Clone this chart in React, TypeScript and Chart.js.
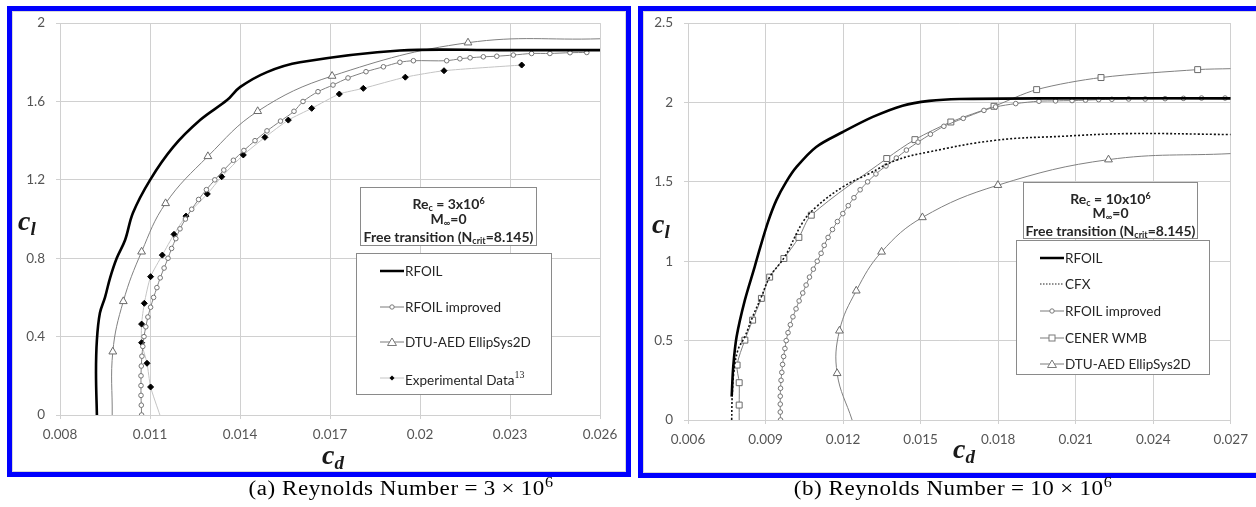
import React, { useEffect, useRef } from "react";
import { Chart, registerables } from "chart.js";

Chart.register(...registerables);

// ---------------- Panel (a): Re = 3x10^6 ----------------
const xTicksA = [0.008, 0.011, 0.014, 0.017, 0.02, 0.023, 0.026];
const xTickLabelsA = ["0.008", "0.011", "0.014", "0.017", "0.02", "0.023", "0.026"];
const yTicksA = [0, 0.4, 0.8, 1.2, 1.6, 2];
const yTickLabelsA = ["0", "0.4", "0.8", "1.2", "1.6", "2"];

const rfoilCdA = [0.00923, 0.0092, 0.00923, 0.00933, 0.0095, 0.00967, 0.00989, 0.01017, 0.01043, 0.011, 0.01177, 0.01267, 0.01357, 0.014, 0.0149, 0.016, 0.01933, 0.02267, 0.026];
const rfoilClA = [0, 0.214, 0.383, 0.52, 0.6, 0.7, 0.8, 0.893, 1.031, 1.199, 1.367, 1.505, 1.607, 1.673, 1.75, 1.8, 1.86, 1.862, 1.862];

const rfoilImpCdA = [0.01072, 0.01071, 0.0107, 0.0107, 0.0107, 0.01071, 0.01073, 0.01076, 0.0108, 0.01086, 0.01093, 0.01102, 0.01112, 0.01123, 0.01134, 0.01147, 0.0116, 0.01172, 0.01186, 0.012, 0.01218, 0.01239, 0.01262, 0.01288, 0.01316, 0.01346, 0.01378, 0.01413, 0.0145, 0.0149, 0.01535, 0.0158, 0.0161, 0.0166, 0.0171, 0.0176, 0.0182, 0.01878, 0.01933, 0.01978, 0.02089, 0.02133, 0.02167, 0.02211, 0.02256, 0.02311, 0.02372, 0.02433, 0.025, 0.02556];
const rfoilImpClA = [0, 0.05, 0.1, 0.15, 0.2, 0.25, 0.3, 0.35, 0.4, 0.45, 0.5, 0.55, 0.6, 0.65, 0.7, 0.75, 0.8, 0.85, 0.9, 0.95, 1.0, 1.05, 1.1, 1.15, 1.2, 1.25, 1.3, 1.35, 1.4, 1.45, 1.5, 1.55, 1.6, 1.65, 1.684, 1.72, 1.752, 1.777, 1.8, 1.808, 1.808, 1.818, 1.823, 1.828, 1.831, 1.837, 1.845, 1.845, 1.849, 1.85];

const dtuCdA = [0.00974, 0.00976, 0.01011, 0.01072, 0.01152, 0.01293, 0.01459, 0.01707, 0.0216, 0.026];
const dtuClA = [0, 0.323, 0.58, 0.833, 1.08, 1.32, 1.55, 1.73, 1.9, 1.92];

const expCdA = [0.01133, 0.01102, 0.0109, 0.01072, 0.01072, 0.01081, 0.01102, 0.01141, 0.0118, 0.0122, 0.01291, 0.01339, 0.01411, 0.01483, 0.01561, 0.01639, 0.01731, 0.01811, 0.01951, 0.0208, 0.02339];
const expClA = [0, 0.143, 0.264, 0.369, 0.464, 0.57, 0.706, 0.816, 0.922, 1.015, 1.128, 1.216, 1.327, 1.417, 1.505, 1.565, 1.638, 1.667, 1.724, 1.757, 1.786];

// ---------------- Panel (b): Re = 10x10^6 ----------------
const xTicksB = [0.006, 0.009, 0.012, 0.015, 0.018, 0.021, 0.024, 0.027];
const xTickLabelsB = ["0.006", "0.009", "0.012", "0.015", "0.018", "0.021", "0.024", "0.027"];
const yTicksB = [0, 0.5, 1, 1.5, 2, 2.5];
const yTickLabelsB = ["0", "0.5", "1", "1.5", "2", "2.5"];

const rfoilCdB = [0.00769, 0.00775, 0.00788, 0.0082, 0.00858, 0.00878, 0.0091, 0.00942, 0.0098, 0.0102, 0.01096, 0.01199, 0.01315, 0.0143, 0.01533, 0.0165, 0.02, 0.027];
const rfoilClB = [0.147, 0.335, 0.524, 0.755, 0.965, 1.08, 1.25, 1.385, 1.5, 1.594, 1.72, 1.814, 1.909, 1.98, 2.01, 2.022, 2.026, 2.026];

const cfxCdB = [0.00769, 0.00771, 0.00777, 0.00793, 0.0082, 0.0085, 0.00884, 0.00916, 0.00974, 0.01045, 0.01096, 0.01199, 0.01302, 0.01405, 0.01533, 0.0179, 0.02047, 0.02305, 0.027];
const cfxClB = [0, 0.15, 0.295, 0.44, 0.525, 0.65, 0.776, 0.9, 1.028, 1.248, 1.342, 1.468, 1.553, 1.636, 1.689, 1.762, 1.787, 1.804, 1.798];

const rfoilImpCdB = [0.00958, 0.00957, 0.00957, 0.00957, 0.00958, 0.0096, 0.00963, 0.00966, 0.0097, 0.00975, 0.0098, 0.00987, 0.00996, 0.01006, 0.01018, 0.0103, 0.01044, 0.01057, 0.0107, 0.01085, 0.011, 0.01115, 0.01127, 0.01142, 0.01159, 0.01178, 0.01199, 0.0122, 0.01242, 0.01266, 0.01295, 0.01327, 0.01366, 0.01406, 0.01445, 0.0149, 0.01538, 0.0159, 0.01665, 0.01745, 0.0179, 0.01868, 0.01958, 0.02022, 0.02086, 0.02138, 0.02189, 0.0224, 0.02305, 0.02369, 0.02446, 0.02517, 0.02587, 0.02678];
const rfoilImpClB = [0, 0.05, 0.1, 0.15, 0.2, 0.25, 0.3, 0.35, 0.4, 0.45, 0.5, 0.55, 0.6, 0.65, 0.7, 0.75, 0.8, 0.85, 0.9, 0.95, 1.0, 1.05, 1.1, 1.15, 1.2, 1.25, 1.3, 1.35, 1.4, 1.45, 1.5, 1.55, 1.6, 1.65, 1.7, 1.75, 1.8, 1.85, 1.9, 1.95, 1.972, 1.993, 2.008, 2.01, 2.012, 2.015, 2.018, 2.02, 2.022, 2.022, 2.024, 2.026, 2.028, 2.028];

const cenerCdB = [0.00798, 0.00798, 0.00798, 0.0079, 0.0082, 0.0085, 0.00884, 0.00916, 0.00971, 0.01029, 0.01077, 0.01369, 0.01478, 0.01617, 0.01784, 0.01949, 0.02198, 0.02572, 0.027];
const cenerClB = [0, 0.094, 0.235, 0.346, 0.503, 0.629, 0.766, 0.9, 1.017, 1.15, 1.29, 1.647, 1.766, 1.877, 1.976, 2.081, 2.157, 2.207, 2.213];

const dtuCdB = [0.01235, 0.01177, 0.01186, 0.01251, 0.01349, 0.01507, 0.01799, 0.02227, 0.027];
const dtuClB = [0, 0.294, 0.562, 0.814, 1.059, 1.276, 1.479, 1.64, 1.678];

// ---------------- helpers ----------------
const pts = (cd: number[], cl: number[]) => cd.map((x, i) => ({ x, y: cl[i] }));

const GRID = "#d0d0d0";
const TICK_FONT = { family: "Lato", size: 13.5 };
const TICK_COLOR = "#555555";

function edgeHidden(xmax: number, r: number) {
  return (ctx: any) => {
    const p = ctx.raw;
    if (!p) return r;
    return p.y <= 0 || p.x >= xmax ? 0 : r;
  };
}

type PanelProps = {
  datasets: any[];
  xTicks: number[];
  xLabels: string[];
  yTicks: number[];
  yLabels: string[];
  left: number;
  top: number;
  width: number;
  height: number;
  padding: { top: number; right: number; bottom: number; left: number };
  yAxisWidth: number;
};

function Panel(props: PanelProps) {
  const ref = useRef<HTMLCanvasElement | null>(null);
  useEffect(() => {
    if (!ref.current) return;
    const { xTicks, xLabels, yTicks, yLabels } = props;
    const chart = new Chart(ref.current, {
      type: "scatter",
      data: { datasets: props.datasets },
      options: {
        animation: false,
        responsive: false,
        maintainAspectRatio: false,
        devicePixelRatio: 1,
        layout: { padding: props.padding },
        plugins: { legend: { display: false }, tooltip: { enabled: false } },
        scales: {
          x: {
            type: "linear",
            min: xTicks[0],
            max: xTicks[xTicks.length - 1],
            afterBuildTicks: (axis: any) => {
              axis.ticks = xTicks.map((v) => ({ value: v }));
            },
            afterFit: (axis: any) => {
              axis.height = 40;
            },
            grid: { color: GRID, tickLength: 4, lineWidth: 1 },
            border: { color: GRID },
            ticks: {
              autoSkip: false,
              maxRotation: 0,
              padding: 8,
              font: TICK_FONT,
              color: TICK_COLOR,
              callback: (_v: any, i: number) => xLabels[i],
            },
          },
          y: {
            type: "linear",
            min: yTicks[0],
            max: yTicks[yTicks.length - 1],
            afterBuildTicks: (axis: any) => {
              axis.ticks = yTicks.map((v) => ({ value: v }));
            },
            afterFit: (axis: any) => {
              axis.width = props.yAxisWidth;
            },
            grid: { color: GRID, tickLength: 4, lineWidth: 1 },
            border: { color: GRID },
            ticks: {
              autoSkip: false,
              padding: 11,
              font: TICK_FONT,
              color: TICK_COLOR,
              callback: (_v: any, i: number) => yLabels[i],
            },
          },
        },
      } as any,
    });
    return () => chart.destroy();
  }, []);
  return (
    <canvas
      ref={ref}
      width={props.width}
      height={props.height}
      style={{ position: "absolute", left: props.left, top: props.top, width: props.width, height: props.height }}
    />
  );
}

const lineBase = { showLine: true, pointRadius: 0, pointHoverRadius: 0 };

const datasetsA = [
  { ...lineBase, label: "RFOIL", data: pts(rfoilCdA, rfoilClA), borderColor: "#000", borderWidth: 2.6, tension: 0.35 },
  {
    ...lineBase,
    label: "RFOIL improved",
    data: pts(rfoilImpCdA, rfoilImpClA),
    borderColor: "#808080",
    borderWidth: 1,
    tension: 0.3,
    pointRadius: 2.3,
    pointStyle: "circle",
    pointBorderColor: "#757575",
    pointBackgroundColor: "#ffffff",
    pointBorderWidth: 1,
  },
  {
    ...lineBase,
    label: "DTU-AED EllipSys2D",
    data: pts(dtuCdA, dtuClA),
    borderColor: "#808080",
    borderWidth: 1,
    tension: 0.4,
    pointRadius: edgeHidden(0.026, 4.5),
    pointStyle: "triangle",
    pointBorderColor: "#6a6a6a",
    pointBackgroundColor: "#ffffff",
    pointBorderWidth: 1,
  },
  {
    ...lineBase,
    label: "Experimental Data",
    data: pts(expCdA, expClA),
    borderColor: "#c4c4c4",
    borderWidth: 1,
    tension: 0.2,
    pointRadius: edgeHidden(0.026, 3),
    pointStyle: "rectRot",
    pointBorderColor: "#000",
    pointBackgroundColor: "#000",
    pointBorderWidth: 1,
  },
];

const datasetsB = [
  { ...lineBase, label: "RFOIL", data: pts(rfoilCdB, rfoilClB), borderColor: "#000", borderWidth: 2.6, tension: 0.3 },
  {
    ...lineBase,
    label: "CFX",
    data: pts(cfxCdB, cfxClB),
    borderColor: "#111",
    borderWidth: 1.6,
    borderDash: [2, 2],
    tension: 0.4,
  },
  {
    ...lineBase,
    label: "RFOIL improved",
    data: pts(rfoilImpCdB, rfoilImpClB),
    borderColor: "#808080",
    borderWidth: 1,
    tension: 0.3,
    pointRadius: 2.3,
    pointStyle: "circle",
    pointBorderColor: "#757575",
    pointBackgroundColor: "#ffffff",
    pointBorderWidth: 1,
  },
  {
    ...lineBase,
    label: "CENER WMB",
    data: pts(cenerCdB, cenerClB),
    borderColor: "#808080",
    borderWidth: 1,
    tension: 0.3,
    pointRadius: edgeHidden(0.027, 4.2),
    pointStyle: "rect",
    pointBorderColor: "#6a6a6a",
    pointBackgroundColor: "#ffffff",
    pointBorderWidth: 1,
  },
  {
    ...lineBase,
    label: "DTU-AED EllipSys2D",
    data: pts(dtuCdB, dtuClB),
    borderColor: "#808080",
    borderWidth: 1,
    tension: 0.4,
    pointRadius: edgeHidden(0.027, 4.5),
    pointStyle: "triangle",
    pointBorderColor: "#6a6a6a",
    pointBackgroundColor: "#ffffff",
    pointBorderWidth: 1,
  },
];

function Sample({ kind }: { kind: string }) {
  const gray = "#7a7a7a";
  return (
    <svg width={26} height={12} style={{ display: "block" }}>
      {kind === "thick" && <line x1={1} y1={6} x2={25} y2={6} stroke="#000" strokeWidth={2.5} />}
      {kind === "dotted" && <line x1={1} y1={6} x2={25} y2={6} stroke="#222" strokeWidth={1.2} strokeDasharray="1.5 1.5" />}
      {kind !== "thick" && kind !== "dotted" && (
        <line x1={1} y1={6} x2={25} y2={6} stroke={kind === "diamond" ? "#c4c4c4" : gray} strokeWidth={1} />
      )}
      {kind === "circle" && <circle cx={13} cy={6} r={2.2} fill="#fff" stroke={gray} strokeWidth={1} />}
      {kind === "square" && <rect x={10} y={3} width={6} height={6} fill="#fff" stroke={gray} strokeWidth={1} />}
      {kind === "triangle" && <polygon points="13,2 17.5,9.5 8.5,9.5" fill="#fff" stroke={gray} strokeWidth={1} />}
      {kind === "diamond" && <polygon points="13,3.5 15.5,6 13,8.5 10.5,6" fill="#000" />}
    </svg>
  );
}

type LegendRow = { kind: string; text: React.ReactNode; y: number };

function Legend({ left, top, width, height, rows }: { left: number; top: number; width: number; height: number; rows: LegendRow[] }) {
  return (
    <div
      style={{
        position: "absolute",
        left,
        top,
        width,
        height,
        boxSizing: "border-box",
        border: "1px solid #8a8a8a",
        background: "#fff",
      }}
    >
      {rows.map((r, i) => (
        <div
          key={i}
          style={{
            position: "absolute",
            left: 22,
            top: r.y - top - 10,
            height: 20,
            display: "flex",
            alignItems: "center",
            fontFamily: "Lato",
            fontSize: 13.5,
            color: "#262626",
            whiteSpace: "nowrap",
          }}
        >
          <Sample kind={r.kind} />
          <span>{r.text}</span>
        </div>
      ))}
    </div>
  );
}

function Annot({ left, top, width, height, re, lines }: { left: number; top: number; width: number; height: number; re: string; lines: number[] }) {
  const rowStyle = (y: number): React.CSSProperties => ({
    position: "absolute",
    left: 0,
    width: "100%",
    top: y - top - 10,
    height: 20,
    lineHeight: "20px",
    textAlign: "center",
    whiteSpace: "nowrap",
  });
  const sub: React.CSSProperties = { fontSize: 9, verticalAlign: "-2px" };
  return (
    <div
      style={{
        position: "absolute",
        left,
        top,
        width,
        height,
        boxSizing: "border-box",
        border: "1px solid #8a8a8a",
        background: "#fff",
        fontFamily: "Lato",
        fontWeight: 700,
        fontSize: 14,
        color: "#262626",
      }}
    >
      <div style={rowStyle(lines[0])}>
        Re<span style={sub}>c</span> = {re}x10<span style={{ fontSize: 9, verticalAlign: "5px" }}>6</span>
      </div>
      <div style={rowStyle(lines[1])}>
        M<span style={sub}>∞</span>=0
      </div>
      <div style={rowStyle(lines[2])}>
        Free transition (N<span style={sub}>crit</span>=8.145)
      </div>
    </div>
  );
}

function AxisTitle({ left, baseline, main, sub }: { left: number; baseline: number; main: string; sub: string }) {
  return (
    <div
      style={{
        position: "absolute",
        left,
        top: baseline - 24,
        height: 30,
        lineHeight: "30px",
        fontFamily: "Liberation Serif",
        fontStyle: "italic",
        fontWeight: 700,
        fontSize: 28,
        color: "#1a1a1a",
        whiteSpace: "nowrap",
      }}
    >
      {main}
      <span style={{ fontSize: 19, verticalAlign: "-5px" }}>{sub}</span>
    </div>
  );
}

function Caption({ cx, pre, num }: { cx: number; pre: string; num: string }) {
  const gap: React.CSSProperties = { display: "inline-block", width: 5 };
  return (
    <div
      style={{
        position: "absolute",
        left: cx - 300,
        width: 600,
        top: 471,
        height: 24,
        lineHeight: "24px",
        textAlign: "center",
        fontFamily: "Liberation Serif",
        fontSize: 20,
        letterSpacing: 0.5,
        color: "#000",
        whiteSpace: "nowrap",
        transform: "scaleX(1.15)",
      }}
    >
      {pre}
      <span style={gap} />=<span style={gap} />
      {num}
      <span style={gap} />×<span style={gap} />
      10<span style={{ fontSize: 14, verticalAlign: "8px" }}>6</span>
    </div>
  );
}

export default function App() {
  const boxStyle = (left: number, width: number, height: number): React.CSSProperties => ({
    position: "absolute",
    left,
    top: 6,
    width,
    height,
    boxSizing: "border-box",
    border: "5px solid #0000fe",
    boxShadow: "inset 0 0 0 1px #d8d8d8",
    background: "#fff",
  });

  return (
    <div style={{ position: "absolute", left: 0, top: 0, width: 1256, height: 507, overflow: "hidden", background: "#fff" }}>
      <div style={boxStyle(7, 624, 471)} />
      <div style={boxStyle(638, 626, 472)} />

      <Panel
        datasets={datasetsA}
        xTicks={xTicksA}
        xLabels={xTickLabelsA}
        yTicks={yTicksA}
        yLabels={yTickLabelsA}
        left={12}
        top={4}
        width={614}
        height={468}
        padding={{ top: 0, right: 26, bottom: 17, left: 0 }}
        yAxisWidth={48}
      />
      <Panel
        datasets={datasetsB}
        xTicks={xTicksB}
        xLabels={xTickLabelsB}
        yTicks={yTicksB}
        yLabels={yTickLabelsB}
        left={643}
        top={4}
        width={613}
        height={469}
        padding={{ top: 0, right: 24, bottom: 13, left: 0 }}
        yAxisWidth={45}
      />

      <Annot left={360} top={187} width={177} height={59} re="3" lines={[200, 218, 236]} />
      <Legend
        left={356}
        top={253}
        width={196}
        height={142}
        rows={[
          { kind: "thick", text: "RFOIL", y: 270 },
          { kind: "circle", text: "RFOIL improved", y: 306 },
          { kind: "triangle", text: "DTU-AED EllipSys2D", y: 341 },
          {
            kind: "diamond",
            text: (
              <>
                Experimental Data
                <span style={{ fontFamily: "Liberation Serif", fontSize: 10, verticalAlign: "7px" }}>13</span>
              </>
            ),
            y: 377,
          },
        ]}
      />

      <Annot left={1023} top={182} width={175} height={57} re="10" lines={[195, 212, 230]} />
      <Legend
        left={1016}
        top={240}
        width={194}
        height={135}
        rows={[
          { kind: "thick", text: "RFOIL", y: 257 },
          { kind: "dotted", text: "CFX", y: 283 },
          { kind: "circle", text: "RFOIL improved", y: 310 },
          { kind: "square", text: "CENER WMB", y: 337 },
          { kind: "triangle", text: "DTU-AED EllipSys2D", y: 363 },
        ]}
      />

      <AxisTitle left={18} baseline={230} main="c" sub="l" />
      <AxisTitle left={652} baseline={233} main="c" sub="l" />
      <AxisTitle left={322} baseline={464} main="c" sub="d" />
      <AxisTitle left={953} baseline={458} main="c" sub="d" />

      <Caption cx={401} pre="(a) Reynolds Number" num="3" />
      <Caption cx={953} pre="(b) Reynolds Number" num="10" />
    </div>
  );
}
